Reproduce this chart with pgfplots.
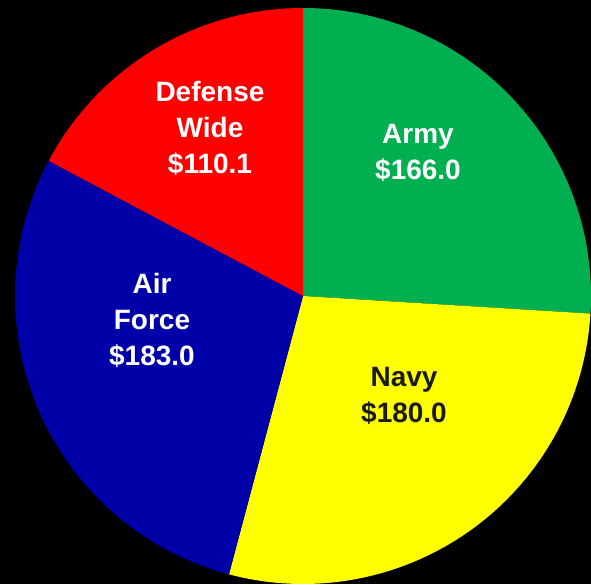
\documentclass[border=0pt]{standalone}
\usepackage{pgfplots}
\pgfplotsset{compat=1.18}
\usepackage{pgfplotstable}
\usepackage{fontspec}
\setmainfont{Liberation Sans}
\definecolor{armygreen}{HTML}{00B050}
\definecolor{navyyellow}{HTML}{FFFF00}
\definecolor{afblue}{HTML}{0000A8}
\definecolor{dwred}{HTML}{FF0000}
\definecolor{navytext}{HTML}{1A1A1A}

\pgfplotstableread{
name value
Army 166.0
Navy 180.0
AirForce 183.0
DefenseWide 110.1
}\budget
\pgfplotstablegetelem{0}{value}\of\budget \let\vA\pgfplotsretval
\pgfplotstablegetelem{1}{value}\of\budget \let\vB\pgfplotsretval
\pgfplotstablegetelem{2}{value}\of\budget \let\vC\pgfplotsretval
\pgfplotstablegetelem{3}{value}\of\budget \let\vD\pgfplotsretval
\pgfmathsetmacro\total{\vA+\vB+\vC+\vD}
\pgfmathsetmacro\aA{90-\vA/\total*360}
\pgfmathsetmacro\aB{\aA-\vB/\total*360}
\pgfmathsetmacro\aC{\aB-\vC/\total*360}
\pgfmathsetmacro\aD{\aC-\vD/\total*360}

\begin{document}
\begin{tikzpicture}
\begin{axis}[
  at={(0,0)}, anchor=south west,
  scale only axis, width=591pt, height=584pt,
  xmin=0, xmax=591, ymin=0, ymax=584,
  axis line style={draw=none}, xtick=\empty, ytick=\empty,
  axis background/.style={fill=black},
]
\fill[armygreen] (axis cs:303,288) -- ++(90:288pt) arc[start angle=90, end angle=\aA, radius=288pt] -- cycle;
\fill[navyyellow] (axis cs:303,288) -- ++(\aA:288pt) arc[start angle=\aA, end angle=\aB, radius=288pt] -- cycle;
\fill[afblue] (axis cs:303,288) -- ++(\aB:288pt) arc[start angle=\aB, end angle=\aC, radius=288pt] -- cycle;
\fill[dwred] (axis cs:303,288) -- ++(\aC:288pt) arc[start angle=\aC, end angle=\aD, radius=288pt] -- cycle;
\node[white, font=\bfseries\fontsize{28}{36}\selectfont, align=center] at (axis cs:418,431) {Army\\\$166.0};
\node[navytext, font=\bfseries\fontsize{28}{36}\selectfont, align=center] at (axis cs:404,188) {Navy\\\$180.0};
\node[white, font=\bfseries\fontsize{28}{36}\selectfont, align=center] at (axis cs:152,264) {Air\\Force\\\$183.0};
\node[white, font=\bfseries\fontsize{28}{36}\selectfont, align=center] at (axis cs:210,456) {Defense\\Wide\\\$110.1};
\end{axis}
\end{tikzpicture}
\end{document}
